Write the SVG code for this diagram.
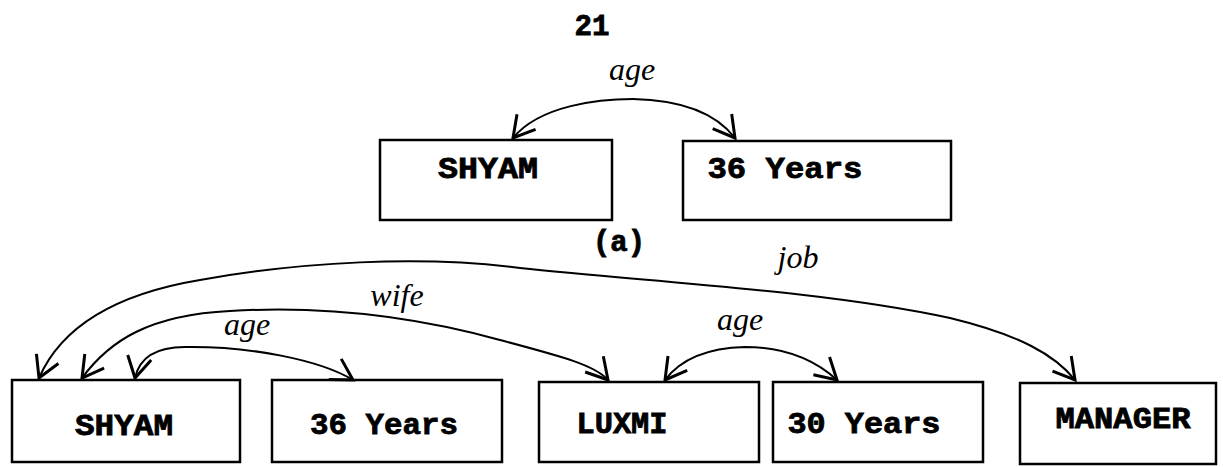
<svg xmlns="http://www.w3.org/2000/svg" width="1223" height="467" viewBox="0 0 1223 467">
<style>
.box{fill:#fff;stroke:#000;stroke-width:2.5}
.bt{font-family:"Liberation Mono","DejaVu Sans Mono",monospace;font-weight:bold;font-size:29px;fill:#000;stroke:#000;stroke-width:0.8;text-anchor:middle}
.hw{font-family:"Liberation Serif","DejaVu Serif",serif;font-style:italic;font-size:32px;fill:#000;text-anchor:middle}
.con{fill:none;stroke:#000;stroke-width:2;marker-start:url(#ah);marker-end:url(#ah)}
</style>
<defs>
<marker id="ah" markerUnits="userSpaceOnUse" markerWidth="30" markerHeight="30" refX="0" refY="0" viewBox="-16 -10 20 20" orient="auto-start-reverse" overflow="visible">
<path d="M-14,-8 L0,0 L-14,8" fill="none" stroke="#000" stroke-width="2"/>
</marker>
</defs>
<text class="bt" x="592" y="35" font-size="32" textLength="35" lengthAdjust="spacingAndGlyphs">21</text>
<text class="bt" x="619" y="251" font-size="27" textLength="52" lengthAdjust="spacingAndGlyphs">(a)</text>
<g id="top-shyam"><rect class="box" x="380" y="140" width="232" height="80"/><text class="bt" x="488" y="178" textLength="100" lengthAdjust="spacingAndGlyphs">SHYAM</text></g>
<g id="top-36years"><rect class="box" x="683" y="141" width="268" height="79"/><text class="bt" x="785" y="178" textLength="155" lengthAdjust="spacingAndGlyphs">36 Years</text></g>
<g id="shyam"><rect class="box" x="12" y="380" width="228" height="82"/><text class="bt" x="124" y="435" textLength="98" lengthAdjust="spacingAndGlyphs">SHYAM</text></g>
<g id="years36"><rect class="box" x="272" y="380" width="230" height="82"/><text class="bt" x="384" y="434" textLength="148" lengthAdjust="spacingAndGlyphs">36 Years</text></g>
<g id="luxmi"><rect class="box" x="539" y="382" width="220" height="80"/><text class="bt" x="622" y="433" textLength="91" lengthAdjust="spacingAndGlyphs">LUXMI</text></g>
<g id="years30"><rect class="box" x="773" y="382" width="210" height="80"/><text class="bt" x="864" y="433" textLength="153" lengthAdjust="spacingAndGlyphs">30 Years</text></g>
<g id="manager"><rect class="box" x="1020" y="383" width="196" height="81"/><text class="bt" x="1123" y="428" textLength="135" lengthAdjust="spacingAndGlyphs">MANAGER</text></g>
<g id="connectors">
<path class="con" d="M513,138 C540,105 600,99 633,99 C680,100 715,112 735,138"/>
<path class="con" d="M135,378 C140,355 160,347 185,347 C250,346 320,360 353,380"/>
<path class="con" d="M82,378 C110,340 150,315 230,311 C330,305 420,318 500,340 C560,356 595,365 608,380"/>
<path class="con" d="M39,378 C60,330 110,295 200,280 C300,262 420,255 520,268 C650,282 820,290 950,318 C1020,335 1055,355 1075,380"/>
<path class="con" d="M665,380 C680,360 705,348 745,347 C785,347 815,360 837,380"/>
<text class="hw" x="632" y="80">age</text>
<text class="hw" x="247" y="335">age</text>
<text class="hw" x="397" y="306">wife</text>
<text class="hw" x="798" y="268">job</text>
<text class="hw" x="740" y="330">age</text>
</g>
</svg>
